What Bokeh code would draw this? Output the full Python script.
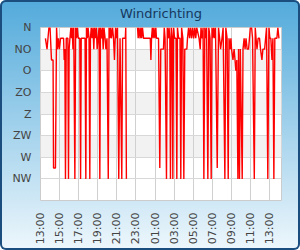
import math
from bokeh.plotting import figure
from bokeh.models import Range1d, FixedTicker, BoxAnnotation
from bokeh.embed import file_html
from bokeh.resources import INLINE

title_text = "Windrichting"

# x axis: minutes since 13:00 (day 1)
tick_minutes = [0, 120, 240, 360, 480, 600, 720, 840, 960, 1080, 1200, 1320, 1440]
tick_labels = ["13:00", "15:00", "17:00", "19:00", "21:00", "23:00", "01:00",
               "03:00", "05:00", "07:00", "09:00", "11:00", "13:00"]

# y axis: wind direction in degrees
dir_degrees = [0, 45, 90, 135, 180, 225, 270, 315]
dir_labels = ["N", "NO", "O", "ZO", "Z", "ZW", "W", "NW"]

NaN = float("nan")

minutes = [31, 41, 47, 53, 60, 66, 69, 79, 82, 94, 101, 107, 113, 119, 126, 145, 149, 153, 157, 162,
           172, 176, 180, 185, 191, 195, 199, 204, 209, 216, 221, 226, 231, 237, 247, 252, 256, 280, 285, 289,
           294, 299, 305, 310, 314, 319, 324, 330, 335, 340, 346, 351, 356, 362, 368, 373, 377, 384, 389, 394,
           399, 406, 411, 418, 426, 431, 436, 441, 446, 453, 459, 465, 472, 478, 484, 492, 500, 511, 516, 533,
           536, 540, 575,
           610, 614, 619, 626, 631, 636, 641, 648, 690, 694, 698, 703, 708, 713, 719, 725, 729, 742, 750, 756,
           773, 778, 783, 792, 797, 804, 808, 813, 817, 822, 828, 832, 836, 843, 852, 857, 861, 868, 877, 882,
           887, 895, 901, 907, 920, 924, 931, 937, 943, 950, 956, 963, 970, 976, 982, 997, 1004, 1009, 1016, 1022,
           1027, 1033, 1038, 1044, 1052, 1058, 1066, 1073, 1078, 1083, 1089, 1094, 1100, 1111, 1119, 1126, 1132, 1141, 1148, 1159,
           1165, 1173, 1180, 1185, 1192, 1197, 1201, 1210, 1217, 1223, 1228, 1234, 1241, 1245, 1251, 1256, 1268, 1273, 1280, 1286,
           1292, 1299, 1308, 1319, 1327, 1333, 1344, 1350, 1355, 1361, 1368, 1377, 1383, 1392, 1398, 1409, 1415, 1421, 1429, 1436,
           1442, 1448, 1455, 1461, 1467, 1473, 1486, 1492, 1499]

degrees = [22.5, 45, 22.5, 0, 0, 45, 67.5, 67.5, 292.5, 292.5, 0, 45, 22.5, 45, 22.5, 22.5, 67.5, 45, 315, 22.5,
           22.5, 315, 45, 22.5, 0, 22.5, 0, 45, 0, 315, 0, 22.5, 0, 22.5, 22.5, 315, 22.5, 22.5, 315, 0,
           22.5, 0, 22.5, 315, 22.5, 0, 22.5, 0, 45, 0, 22.5, 0, 45, 22.5, 0, 315, 0, 22.5, 0, 45,
           0, 22.5, 45, 22.5, 315, 0, 22.5, 0, 22.5, 0, 22.5, 67.5, 0, 22.5, 0, 315, 22.5, 315, 22.5, 22.5,
           0, 315, NaN,
           0, 22.5, 0, 22.5, 0, 22.5, 0, 22.5, 22.5, 67.5, 22.5, 0, 22.5, 0, 22.5, 0, 22.5, 22.5, 292.5, 45,
           45, 0, 22.5, 315, 0, 22.5, 0, 22.5, 315, 0, 22.5, 315, 0, 22.5, 22.5, 315, 0, 22.5, 22.5, 315,
           0, 22.5, 315, 45, 45, 22.5, 0, 22.5, 0, 22.5, 0, 22.5, 0, 22.5, 0, 22.5, 45, 0, 22.5, 0,
           315, 0, 22.5, 0, 315, 0, 22.5, 315, 0, 22.5, 0, 22.5, 0, 292.5, 0, 22.5, 45, 22.5, 0, 315,
           0, 22.5, 315, 22.5, 45, 22.5, 45, 67.5, 45, 67.5, 90, 67.5, 315, 45, 315, 45, 315, 45, 22.5, 45,
           22.5, 45, 45, 0, 0, 22.5, 315, 0, 22.5, 45, 22.5, 22.5, 45, 67.5, 45, 45, 22.5, 0, 315, 0,
           22.5, 22.5, 67.5, 22.5, 315, 22.5, 22.5, 0, 22.5]

FONT = "DejaVu Sans"

p = figure(width=300, height=250, output_backend="svg", toolbar_location=None,
           x_range=Range1d(0, 1515), y_range=Range1d(360, 0),
           min_border_left=40, min_border_right=19, min_border_top=25, min_border_bottom=50)

p.title.text = title_text
p.title.align = "center"
p.title.vertical_align = "top"
p.title.text_font = FONT
p.title.text_font_size = "13px"
p.title.text_font_style = "normal"
p.title.text_color = "#17375e"
p.title.standoff = 10

p.border_fill_color = None
p.background_fill_color = "white"
p.outline_line_color = "#cccccc"
p.styles = {
    "background": "linear-gradient(to bottom, #52aadb 0%, #eef7fc 100%)",
    "border-radius": "6px",
    "box-shadow": "inset 0 0 0 2px #1b4d7e",
}

# alternating light bands
for lo in (45, 135, 225):
    p.add_layout(BoxAnnotation(top=lo, bottom=lo + 45, fill_color="#f2f2f2", fill_alpha=1,
                               line_color=None, level="image"))

p.line(minutes, degrees, line_color="#ff0000", line_width=1.4)

p.xaxis.ticker = FixedTicker(ticks=tick_minutes)
p.xaxis.major_label_overrides = {m: l for m, l in zip(tick_minutes, tick_labels)}
p.xaxis.major_label_orientation = math.pi / 2
p.xaxis.major_label_standoff = 12
p.yaxis.ticker = FixedTicker(ticks=dir_degrees)
p.yaxis.major_label_overrides = {d: l for d, l in zip(dir_degrees, dir_labels)}
p.yaxis.major_label_standoff = 9

for ax in (p.xaxis[0], p.yaxis[0]):
    ax.axis_line_color = None
    ax.major_tick_line_color = None
    ax.minor_tick_line_color = None
    ax.major_tick_out = 0
    ax.major_tick_in = 0
    ax.major_label_text_font = FONT
    ax.major_label_text_font_size = "11px"
    ax.major_label_text_color = "#444444"

p.xgrid.ticker = FixedTicker(ticks=tick_minutes)
p.ygrid.ticker = FixedTicker(ticks=dir_degrees)
p.xgrid.grid_line_color = "#d0d0d0"
p.ygrid.grid_line_color = "#d8d8d8"

open("out.html", "w").write(file_html(p, INLINE))
